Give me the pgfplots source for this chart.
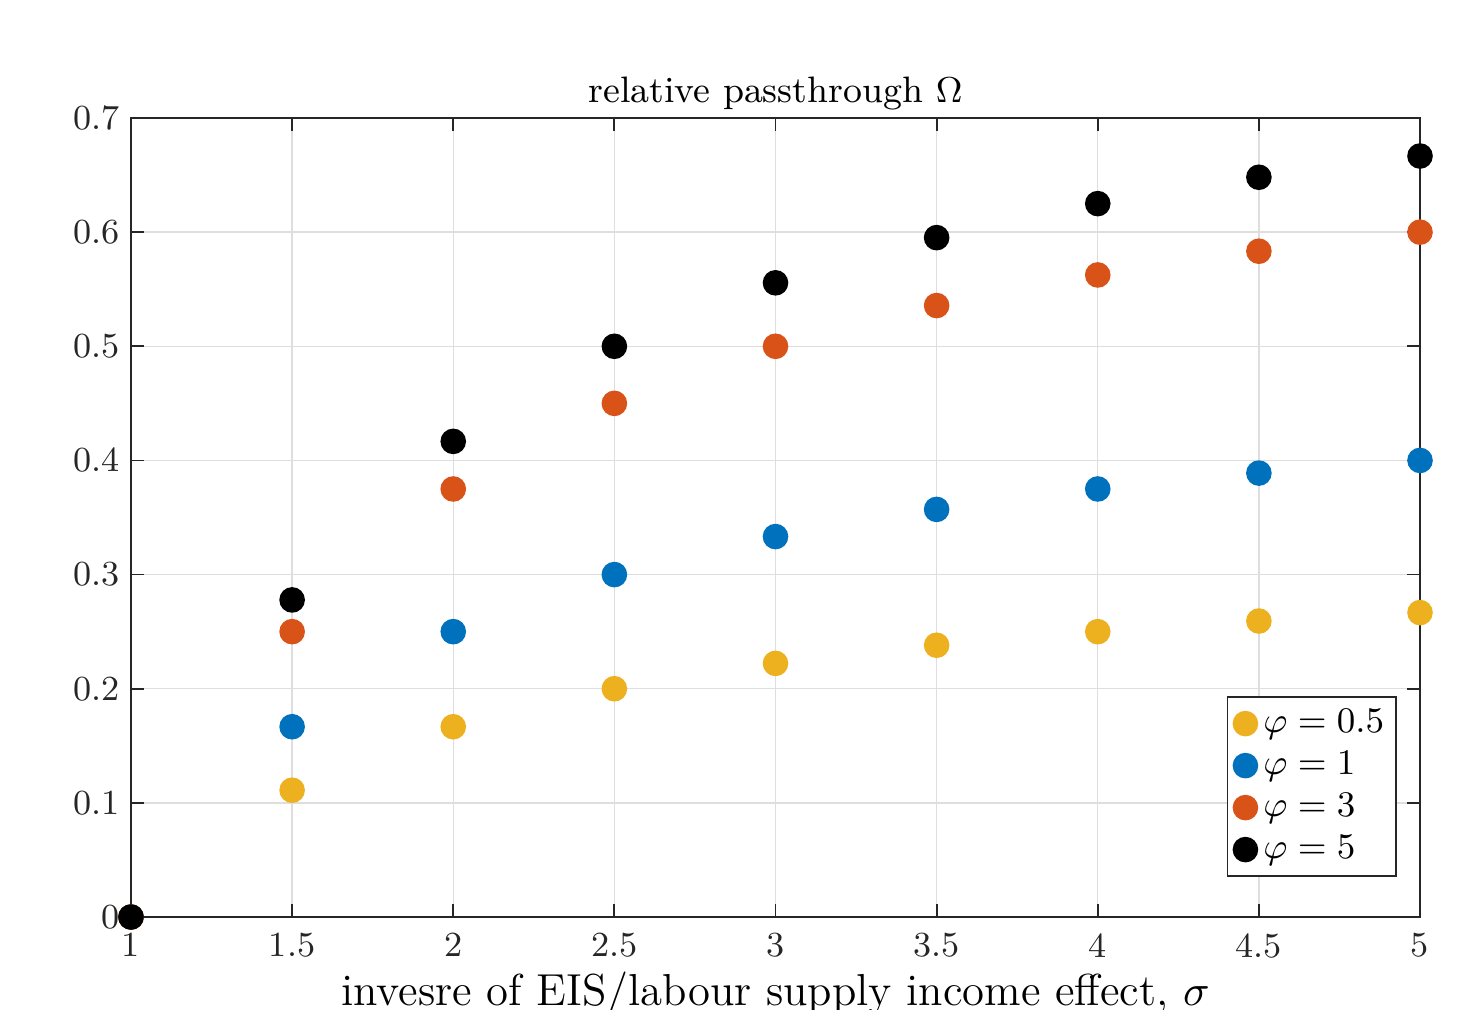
\documentclass[border=0pt]{standalone}
\usepackage{pgfplots}
\pgfplotsset{compat=1.18}
\definecolor{myyellow}{rgb}{0.929,0.694,0.125}
\definecolor{myblue}{rgb}{0,0.447,0.741}
\definecolor{myorange}{rgb}{0.85,0.325,0.098}
\definecolor{axcol}{rgb}{0.15,0.15,0.15}
\begin{document}
\begin{tikzpicture}
\useasboundingbox (-32.75pt,-23pt) rectangle (333.25pt,229.25pt);
\clip (-32.75pt,-23pt) rectangle (333.25pt,229.25pt);
\begin{axis}[
  at={(0,0)}, anchor=south west,
  scale only axis, width=322.25pt, height=199.75pt,
  xmin=1, xmax=5, ymin=0, ymax=0.7,
  xtick={1,1.5,2,2.5,3,3.5,4,4.5,5},
  ytick={0,0.1,0.2,0.3,0.4,0.5,0.6,0.7},
  yticklabels={0,0.1,0.2,0.3,0.4,0.5,0.6,0.7},
  xticklabels={1,1.5,2,2.5,3,3.5,4,4.5,5},
  grid=major,
  major grid style={black!13, line width=0.35pt},
  axis line style={axcol, line width=0.45pt},
  tick style={axcol, line width=0.45pt},
  tick align=inside, major tick length=3.3pt,
  ticklabel style={font=\fontsize{8.8}{10.5}\selectfont, text=axcol},
  xticklabel style={yshift=-0.6pt},
  yticklabel style={xshift=0.8pt},
  title={relative passthrough $\Omega$},
  title style={font=\fontsize{9.2}{11}\selectfont, yshift=-7.5pt},
  xlabel={invesre of EIS/labour supply income effect, $\sigma$},
  xlabel style={font=\fontsize{11.2}{13}\selectfont, yshift=3.5pt},
  clip=false,
  legend style={at={(1,0)}, anchor=south east, xshift=-5.75pt, yshift=10pt,
    draw=axcol, line width=0.4pt, font=\fontsize{9.2}{11}\selectfont,
    inner xsep=1.5pt, inner ysep=1.5pt, row sep=0.2pt,
    nodes={inner xsep=1.5pt, inner ysep=1.5pt}},
  legend cell align=left,
]
\addplot[only marks, mark=*, mark size=3pt, color=myyellow] coordinates {
(1,0) (1.5,0.1111) (2,0.1667) (2.5,0.2) (3,0.2222) (3.5,0.2381) (4,0.25) (4.5,0.2593) (5,0.2667)};
\addlegendentry{$\varphi=0.5$}
\addplot[only marks, mark=*, mark size=3pt, color=myblue] coordinates {
(1,0) (1.5,0.1667) (2,0.25) (2.5,0.3) (3,0.3333) (3.5,0.3571) (4,0.375) (4.5,0.3889) (5,0.4)};
\addlegendentry{$\varphi=1$}
\addplot[only marks, mark=*, mark size=3pt, color=myorange] coordinates {
(1,0) (1.5,0.25) (2,0.375) (2.5,0.45) (3,0.5) (3.5,0.5357) (4,0.5625) (4.5,0.5833) (5,0.6)};
\addlegendentry{$\varphi=3$}
\addplot[only marks, mark=*, mark size=3pt, color=black] coordinates {
(1,0) (1.5,0.2778) (2,0.4167) (2.5,0.5) (3,0.5556) (3.5,0.5952) (4,0.625) (4.5,0.6481) (5,0.6667)};
\addlegendentry{$\varphi=5$}
\end{axis}
\end{tikzpicture}
\end{document}
